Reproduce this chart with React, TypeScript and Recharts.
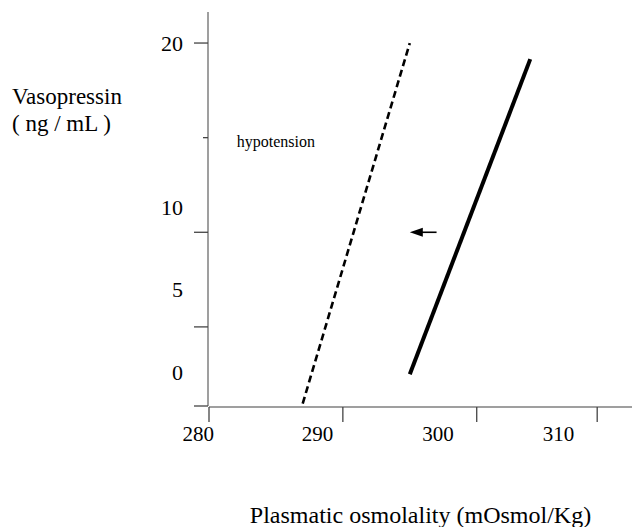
import React from 'react';
import {
  LineChart,
  Line,
  XAxis,
  YAxis,
  ReferenceLine,
  ReferenceDot,
} from 'recharts';

// values (schematic, axes are not evenly labelled)
const xDomain = [280, 311.6];
const yDomain = [0.82, 21.64];

const xTicks = [280, 290, 300, 309];
const xLabelPositions = [279.2, 288.1, 297.1, 306.1];
const xTickLabels = ['280', '290', '300', '310'];

const yTicks = [0.82, 5, 10, 15, 20];
const yMinorTicks = [15];
const yLabelPositions = [20, 11.3, 7.0, 2.6];
const yTickLabels = ['20', '10', '5', '0'];

const hypotensionCurve = [
  { x: 287, y: 0.95 },
  { x: 295, y: 20 },
];
const normalCurve = [
  { x: 295, y: 2.5 },
  { x: 304, y: 19.15 },
];
const shiftArrow = [
  { x: 297, y: 10 },
  { x: 295, y: 10 },
];
const note = { x: 285.0, y: 14.8, text: 'hypotension' };

const FONT = "'Liberation Serif', 'Times New Roman', serif";
const AXIS = '#7f7f7f';
const TICK = '#444';

const XTickMark = (props: any) => {
  const { x, y } = props;
  return <line x1={x} y1={y} x2={x} y2={y + 15} stroke={TICK} strokeWidth={1.3} />;
};

const YTickMark = (props: any) => {
  const { x, y, payload } = props;
  const len = yMinorTicks.includes(payload.value) ? 5 : 14;
  return <line x1={x - len} y1={y} x2={x} y2={y} stroke={TICK} strokeWidth={1.3} />;
};

const Arrow = (props: any) => {
  const { x1, y1, x2, y2 } = props;
  const head = 13;
  const dir = x2 < x1 ? 1 : -1;
  return (
    <g>
      <line x1={x1} y1={y1} x2={x2 + dir * head * 0.8} y2={y2} stroke="#000" strokeWidth={1.6} />
      <polygon
        points={`${x2},${y2} ${x2 + dir * head},${y2 - 4.5} ${x2 + dir * head},${y2 + 4.5}`}
        fill="#000"
      />
    </g>
  );
};

const YTitle = () => (
  <g fontFamily={FONT} fontSize={23} fill="#000">
    <text x={12} y={104}>Vasopressin</text>
    <text x={12} y={131}>( ng / mL )</text>
  </g>
);

const XTitle = (props: any) => {
  const vb = props.viewBox || { x: 209, y: 406, width: 423 };
  return (
    <text
      x={vb.x + vb.width / 2}
      y={406 + 117}
      textAnchor="middle"
      fontFamily={FONT}
      fontSize={24}
      fill="#000"
    >
      Plasmatic osmolality (mOsmol/Kg)
    </text>
  );
};

export default function App() {
  return (
    <div style={{ position: 'absolute', left: 0, top: 0, background: '#fff' }}>
      <LineChart
        width={634}
        height={527}
        margin={{ top: 12, right: 2, left: 207, bottom: 119 }}
      >
        <XAxis
          xAxisId="marks"
          type="number"
          dataKey="x"
          domain={xDomain}
          ticks={xTicks}
          interval={0}
          height={1}
          tickSize={0}
          tickMargin={0}
          tickLine={false}
          tick={<XTickMark />}
          axisLine={{ stroke: AXIS, strokeWidth: 1.5 }}
          allowDataOverflow
          label={{ content: XTitle }}
        />
        <XAxis
          xAxisId="labels"
          type="number"
          dataKey="x"
          domain={xDomain}
          ticks={xLabelPositions}
          interval={0}
          height={1}
          tickSize={0}
          tickMargin={20}
          tickLine={false}
          axisLine={false}
          allowDataOverflow
          tickFormatter={(v: number) => xTickLabels[xLabelPositions.indexOf(v)]}
          tick={{ fontFamily: FONT, fontSize: 21, fill: '#000' }}
        />
        <YAxis
          yAxisId="marks"
          type="number"
          domain={yDomain}
          ticks={yTicks}
          interval={0}
          width={1}
          tickSize={0}
          tickMargin={0}
          tickLine={false}
          tick={<YTickMark />}
          axisLine={{ stroke: AXIS, strokeWidth: 1.5 }}
          allowDataOverflow
          label={{ content: YTitle }}
        />
        <YAxis
          yAxisId="labels"
          type="number"
          domain={yDomain}
          ticks={yLabelPositions}
          interval={0}
          width={1}
          tickSize={0}
          tickMargin={26}
          tickLine={false}
          axisLine={false}
          allowDataOverflow
          tickFormatter={(v: number) => yTickLabels[yLabelPositions.indexOf(v)]}
          tick={{ fontFamily: FONT, fontSize: 22, fill: '#000' }}
        />
        <Line
          xAxisId="marks"
          yAxisId="marks"
          data={hypotensionCurve}
          dataKey="y"
          stroke="#000"
          strokeWidth={2.6}
          strokeDasharray="7 4"
          dot={false}
          activeDot={false}
          isAnimationActive={false}
        />
        <Line
          xAxisId="marks"
          yAxisId="marks"
          data={normalCurve}
          dataKey="y"
          stroke="#000"
          strokeWidth={4}
          dot={false}
          activeDot={false}
          isAnimationActive={false}
        />
        <ReferenceLine
          xAxisId="marks"
          yAxisId="marks"
          segment={shiftArrow}
          shape={Arrow}
        />
        <ReferenceDot
          xAxisId="marks"
          yAxisId="marks"
          x={note.x}
          y={note.y}
          r={0}
          fill="none"
          stroke="none"
          label={{
            value: note.text,
            position: 'center',
            fontFamily: FONT,
            fontSize: 16,
            fill: '#000',
          }}
        />
      </LineChart>
    </div>
  );
}
